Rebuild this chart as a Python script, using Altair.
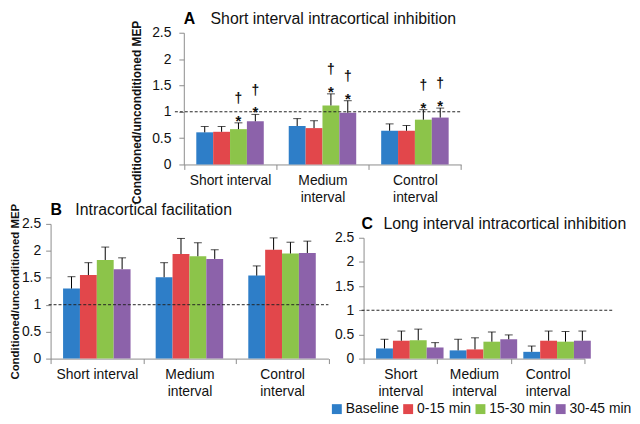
import altair as alt
import pandas as pd

FONT = "Liberation Sans"

categories = ["Short interval", "Medium interval", "Control interval"]
series = ["Baseline", "0-15 min", "15-30 min", "30-45 min"]
colors = ["#2e7ec8", "#e2474b", "#8cc44a", "#8c62aa"]

# Panel A: short interval intracortical inhibition (mean, top of error bar)
sici_short = [0.61, 0.62, 0.67, 0.82]
sici_medium = [0.73, 0.69, 1.12, 0.98]
sici_control = [0.64, 0.64, 0.85, 0.89]
sici_short_top = [0.72, 0.72, 0.79, 0.95]
sici_medium_top = [0.87, 0.83, 1.34, 1.21]
sici_control_top = [0.77, 0.74, 1.04, 1.07]
sici_marked_cat = ["Short interval", "Short interval", "Medium interval",
                   "Medium interval", "Control interval", "Control interval"]
sici_marked_series = ["15-30 min", "30-45 min", "15-30 min", "30-45 min",
                      "15-30 min", "30-45 min"]

# Panel B: intracortical facilitation
icf_short = [1.30, 1.55, 1.83, 1.66]
icf_medium = [1.51, 1.94, 1.90, 1.85]
icf_control = [1.54, 2.02, 1.95, 1.96]
icf_short_top = [1.52, 1.78, 2.07, 1.87]
icf_medium_top = [1.78, 2.23, 2.15, 2.02]
icf_control_top = [1.72, 2.24, 2.16, 2.18]

# Panel C: long interval intracortical inhibition
lici_short = [0.21, 0.37, 0.38, 0.23]
lici_medium = [0.17, 0.19, 0.35, 0.40]
lici_control = [0.14, 0.37, 0.35, 0.37]
lici_short_top = [0.40, 0.57, 0.61, 0.33]
lici_medium_top = [0.40, 0.43, 0.55, 0.49]
lici_control_top = [0.26, 0.57, 0.56, 0.57]

y_ticks = [0, 0.5, 1, 1.5, 2, 2.5]
reference_level = [1.0]
y_title = "Conditioned/unconditioned  MEP"


def frame(means, tops):
    rows = []
    for cat, m, t in zip(categories, means, tops):
        for s, v, e in zip(series, m, t):
            rows.append({"cat": cat, "series": s, "value": v, "upper": e})
    return pd.DataFrame(rows)


df_a = frame([sici_short, sici_medium, sici_control],
             [sici_short_top, sici_medium_top, sici_control_top])
df_b = frame([icf_short, icf_medium, icf_control],
             [icf_short_top, icf_medium_top, icf_control_top])
df_c = frame([lici_short, lici_medium, lici_control],
             [lici_short_top, lici_medium_top, lici_control_top])
marks_a = df_a.merge(pd.DataFrame({"cat": sici_marked_cat, "series": sici_marked_series}),
                     on=["cat", "series"])

LEGEND = alt.Legend(
    title=None, orient="none", legendX=282, legendY=373, direction="horizontal",
    columns=4, symbolType="square", symbolSize=100, symbolStrokeWidth=0,
    labelFont=FONT, labelFontSize=14, labelColor="#111", labelOffset=2,
    columnPadding=2, padding=0,
)


def anchor(x, y):
    # invisible layout anchor fixing the chart's top-left bound
    return alt.Chart(pd.DataFrame({"a": [0]})).mark_point(
        size=1, opacity=0, filled=True).encode(x=alt.value(x), y=alt.value(y))


def panel(df, letter, title, plot_w, height, ytitle, ytitle_y, ytitle_pad, ylab_pad,
          ytitle_size, label_expr, rule_x, rule_x2, title_dx, letter_dx,
          marks=None, left=0, extra=None):
    xaxis = alt.Axis(title=None, labelAngle=0, tickBand="extent", labelExpr=label_expr,
                     labelPadding=4, labelLineHeight=17)
    xscale_kw = dict(paddingInner=0, paddingOuter=0)
    if left:
        xscale_kw["range"] = [left, left + plot_w]
    x = alt.X("cat:N", sort=categories, scale=alt.Scale(**xscale_kw), axis=xaxis)
    xo = alt.XOffset("series:N", sort=series,
                     scale=alt.Scale(paddingInner=0, paddingOuter=0.74))
    yscale = alt.Scale(domain=[0, 2.5], nice=False, zero=True)
    axis_kw = dict(values=y_ticks, format="~g", labelPadding=ylab_pad)
    if left:
        axis_kw["offset"] = -left
    if ytitle:
        axis_kw.update(title=ytitle, titleFontSize=ytitle_size, titleFontWeight="bold",
                       titlePadding=ytitle_pad, titleColor="#111")
        if ytitle_y is not None:
            axis_kw.update(titleY=ytitle_y)
    else:
        axis_kw.update(title=None)
    yaxis = alt.Axis(**axis_kw)

    def Y(field):
        return alt.Y(field, scale=yscale, axis=yaxis)

    base = alt.Chart(df)
    bars = base.mark_bar().encode(
        x=x, xOffset=xo, y=Y("value:Q"),
        color=alt.Color("series:N", sort=series,
                        scale=alt.Scale(domain=series, range=colors), legend=LEGEND),
    )
    err = base.mark_rule(strokeWidth=1).encode(
        x=x, xOffset=xo, y=Y("value:Q"), y2="upper:Q", color=alt.value("#000"))
    cap = base.mark_tick(thickness=1, size=8).encode(
        x=x, xOffset=xo, y=Y("upper:Q"), color=alt.value("#000"))
    ref = alt.Chart(pd.DataFrame({"ref": reference_level})).mark_rule(
        strokeDash=[3, 2], strokeWidth=1).encode(
        y=Y("ref:Q"), x=alt.value(rule_x), x2=alt.value(rule_x2),
        color=alt.value("#222"))
    let = alt.Chart(pd.DataFrame({"t": [letter]})).mark_text(
        font=FONT, fontSize=16, fontWeight="bold", align="left",
        baseline="alphabetic").encode(
        text="t:N", x=alt.value(left + letter_dx), y=alt.value(-9),
        color=alt.value("#000"))
    ttl = alt.Chart(pd.DataFrame({"t": [title]})).mark_text(
        font=FONT, fontSize=16, align="left", baseline="alphabetic").encode(
        text="t:N", x=alt.value(left + title_dx), y=alt.value(-9),
        color=alt.value("#111"))
    layers = [bars, err, cap, ref]
    if marks is not None:
        mb = alt.Chart(marks)
        star = mb.mark_text(text="*", font=FONT, fontSize=15, fontWeight="bold", dy=3,
                            baseline="alphabetic").encode(
            x=x, xOffset=xo, y=Y("upper:Q"), color=alt.value("#111"))
        dag = mb.mark_text(text="\u2020", font=FONT, fontSize=14, fontWeight="bold",
                           dy=-20, baseline="alphabetic").encode(
            x=x, xOffset=xo, y=Y("upper:Q"), color=alt.value("#111"))
        layers += [star, dag]
    layers += [let, ttl]
    if extra is not None:
        layers.append(extra)
    return alt.layer(*layers).properties(width=left + plot_w, height=height)


two_line = "isValid(datum.value) ? split(datum.value, ' ') : ''"
mixed = ("isValid(datum.value) ? (datum.value == 'Short interval' ? datum.value "
         ": split(datum.value, ' ')) : ''")

A_LEFT = 134.5
A = panel(df_a, "A", "Short interval intracortical inhibition", 280, 133, y_title, 80, 8, 8,
          12, mixed, A_LEFT - 9, A_LEFT + 280, 27, 0, marks=marks_a, left=A_LEFT,
          extra=anchor(A_LEFT, -22))
B = panel(df_b, "B", "Intracortical facilitation", 280.5, 136, y_title, None, 0.5, 5,
          11.5, mixed, -2, 280.5, 25, 0, extra=anchor(-42, 0))
C = panel(df_c, "C", "Long interval intracortical inhibition", 223, 122, None, None, 0, 5,
          11, two_line, -2, 253, 20, -2)

spacer = alt.Chart(pd.DataFrame({"s": [0]})).mark_point(opacity=0).encode(
    x=alt.value(0), y=alt.value(0)).properties(width=1, height=1)

c_col = alt.vconcat(spacer, C, spacing=13, bounds="flush")
bottom_row = alt.hconcat(B, c_col, spacing=35, bounds="flush")

chart = alt.vconcat(A, bottom_row, spacing=60, bounds="flush").properties(
    padding={"left": 0, "top": 0, "right": 0, "bottom": 0}, background="white"
).configure_view(stroke=None).configure_axis(
    domainColor="#8c8c8c", tickColor="#8c8c8c", tickSize=5, grid=False,
    labelFont=FONT, labelFontSize=14, labelColor="#111", titleFont=FONT,
)

chart.save("out.html", embed_options={"renderer": "svg", "actions": False})
